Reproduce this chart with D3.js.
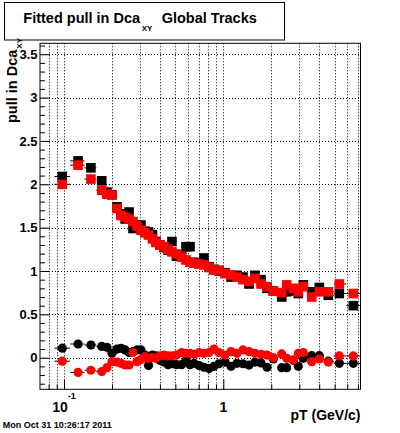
<!DOCTYPE html>
<html><head><meta charset="utf-8">
<script src="https://cdn.jsdelivr.net/npm/d3@7/dist/d3.min.js"></script>
<style>
body{margin:0;background:#fff}
text{font-family:"Liberation Sans",Arial,Helvetica,sans-serif;font-weight:bold;fill:#000}
</style>
</head><body>
<svg id="c" width="400" height="433"></svg>
<script>
// ---- data ----
const pt = [0.0975,0.1225,0.1475,0.1725,0.186,0.20,0.215,0.228,0.242,0.256,0.271,0.287,0.304,0.322,0.339,0.359,0.378,0.40,0.424,0.45,0.476,0.508,0.547,0.583,0.618,0.655,0.704,0.756,0.813,0.874,0.94,1.025,1.118,1.219,1.329,1.45,1.581,1.725,1.881,2.06,2.326,2.50,2.75,2.957,3.178,3.589,4.006,4.562,5.348,6.548];
const sigmaBlack = [2.09,2.27,2.19,2.04,1.91,1.88,1.74,1.66,1.60,1.68,1.49,1.53,1.53,1.46,1.45,1.42,1.34,1.30,1.27,1.24,1.34,1.17,1.17,1.28,1.28,1.10,1.09,1.15,1.05,1.02,1.00,0.98,0.93,0.95,0.93,0.85,0.95,0.90,0.80,0.77,0.70,0.76,0.77,0.74,0.84,0.76,0.81,0.72,0.74,0.60];
const sigmaRed = [2.00,2.22,2.06,1.93,1.885,1.877,1.72,1.64,1.62,1.60,1.57,1.52,1.47,1.44,1.415,1.37,1.33,1.30,1.28,1.25,1.22,1.196,1.16,1.127,1.10,1.09,1.08,1.07,1.04,1.01,1.01,0.97,0.955,0.93,0.90,0.88,0.915,0.85,0.82,0.77,0.75,0.84,0.80,0.76,0.82,0.70,0.76,0.76,0.85,0.74];
const meanBlack = [0.11,0.158,0.146,0.13,0.12,0.05,0.10,0.108,0.09,0.06,0.07,0.09,0.09,0.03,-0.09,0.03,0.02,-0.03,-0.05,-0.08,-0.07,-0.08,-0.08,-0.03,-0.08,-0.065,-0.09,-0.11,-0.125,-0.10,-0.07,-0.05,-0.10,-0.065,-0.07,-0.085,-0.05,-0.06,-0.11,-0.015,-0.115,-0.115,-0.03,-0.10,-0.007,0.023,0.023,-0.04,-0.065,-0.065];
const meanRed = [-0.04,-0.17,-0.145,-0.16,-0.115,-0.046,-0.05,-0.065,-0.084,-0.084,0.06,-0.046,-0.02,0.012,-0.007,0.0,-0.007,0.02,0.03,0.02,0.02,0.03,0.06,0.05,0.05,0.04,0.058,0.05,0.06,0.10,0.06,0.03,0.07,0.05,0.09,0.07,0.05,0.04,0.03,0.0,0.043,-0.007,-0.026,0.05,0.06,-0.046,-0.015,-0.05,0.02,0.02];
const yMajor = [0,0.5,1,1.5,2,2.5,3,3.5];
const yMinor = [-0.3,-0.2,-0.1,0.1,0.2,0.3,0.4,0.6,0.7,0.8,0.9,1.1,1.2,1.3,1.4,1.6,1.7,1.8,1.9,2.1,2.2,2.3,2.4,2.6,2.7,2.8,2.9,3.1,3.2,3.3,3.4,3.6];
const xMajor = [0.1,1];
const xMinor = [0.08,0.09,0.2,0.3,0.4,0.5,0.6,0.7,0.8,0.9,2,3,4,5,6,7];
const titleParts = ["Fitted pull in Dca","XY","Global Tracks"];
const yTitle = ["pull in Dca","XY"];
const xTitle = "pT (GeV/c)";
const dateText = "Mon Oct 31 10:26:17 2011";

// ---- layout ----
const L=40,R=360.5,T=43.3,B=389.3;
const svg=d3.select("#c");
const x=d3.scaleLog().domain([0.07066,7.265]).range([L,R]);
const y=d3.scaleLinear().domain([-0.3645,3.626]).range([B,T]);

// grid
const grid=svg.append("g").attr("stroke","#000").attr("stroke-width",1).attr("stroke-dasharray","1,2");
grid.selectAll("line.gx").data(xMajor.concat(xMinor)).join("line")
  .attr("x1",d=>Math.round(x(d))+0.5).attr("x2",d=>Math.round(x(d))+0.5).attr("y1",T).attr("y2",B);
grid.selectAll("line.gy").data(yMajor).join("line")
  .attr("y1",d=>Math.round(y(d))+0.5).attr("y2",d=>Math.round(y(d))+0.5).attr("x1",L).attr("x2",R);

// axes ticks
function styleAxis(g){g.select(".domain").remove();g.selectAll("line").attr("stroke","#000");g.selectAll("text").remove();}
svg.append("g").attr("transform",`translate(0,${B})`).call(d3.axisBottom(x).tickValues(xMajor).tickSizeInner(-10).tickSizeOuter(0)).call(styleAxis);
svg.append("g").attr("transform",`translate(0,${B})`).call(d3.axisBottom(x).tickValues(xMinor).tickSizeInner(-5).tickSizeOuter(0)).call(styleAxis);
svg.append("g").attr("transform",`translate(${L},0)`).call(d3.axisLeft(y).tickValues(yMajor).tickSizeInner(-10).tickSizeOuter(0)).call(styleAxis);
svg.append("g").attr("transform",`translate(${L},0)`).call(d3.axisLeft(y).tickValues(yMinor).tickSizeInner(-5).tickSizeOuter(0)).call(styleAxis);

// frame
svg.append("rect").attr("x",L).attr("y",T).attr("width",R-L).attr("height",B-T).attr("fill","none").attr("stroke","#000").attr("stroke-width",1);

// y labels
svg.selectAll("text.yl").data(yMajor).join("text").attr("class","yl")
  .attr("x",37.5).attr("y",d=>y(d)+4.6).attr("text-anchor","end").attr("font-size",13).text(d=>d3.format("")(d));
// x labels
xMajor.forEach(v=>{
  const t=svg.append("text").attr("x",x(v)).attr("y",411.5).attr("text-anchor","middle").attr("font-size",14);
  if(v===1){t.text("1");}
  else {t.append("tspan").text("10");t.append("tspan").attr("font-size",9).attr("dy",-12.5).text("-1");}
});

// bin edges
const edges=pt.map((p,i)=>{
  const lo=i>0?Math.sqrt(pt[i-1]*p):p*p/Math.sqrt(p*pt[i+1]);
  const hi=i<pt.length-1?Math.sqrt(p*pt[i+1]):p*p/Math.sqrt(pt[i-1]*p);
  return [lo,hi];
});

function drawSeries(vals,color,shape){
  const g=svg.append("g");
  g.selectAll("line").data(vals).join("line")
    .attr("x1",(d,i)=>x(edges[i][0])).attr("x2",(d,i)=>x(edges[i][1]))
    .attr("y1",d=>y(d)).attr("y2",d=>y(d)).attr("stroke","#000").attr("stroke-width",1);
  if(shape==="square"){
    g.selectAll("rect").data(vals).join("rect")
      .attr("x",(d,i)=>x(pt[i])-4.8).attr("y",d=>y(d)-4.8).attr("width",9.6).attr("height",9.6).attr("fill",color);
  } else {
    g.selectAll("circle").data(vals).join("circle")
      .attr("cx",(d,i)=>x(pt[i])).attr("cy",d=>y(d)).attr("r",4.6).attr("fill",color);
  }
}
drawSeries(sigmaBlack,"#000","square");
drawSeries(sigmaRed,"#ff0000","square");
drawSeries(meanBlack,"#000","circle");
drawSeries(meanRed,"#ff0000","circle");

// title box
svg.append("rect").attr("x",4.5).attr("y",2.5).attr("width",280).attr("height",37.5).attr("fill","#fff").attr("stroke","#000").attr("stroke-width",1);
svg.append("text").attr("x",23.3).attr("y",22.7).attr("font-size",14.5).text(titleParts[0]);
svg.append("text").attr("x",141.7).attr("y",31).attr("font-size",8).text(titleParts[1]);
svg.append("text").attr("x",161.7).attr("y",22.7).attr("font-size",14.5).text(titleParts[2]);

// y title
const yt=svg.append("text").attr("transform","translate(17,123) rotate(-90)").attr("font-size",14.5);
yt.append("tspan").text(yTitle[0]);
yt.append("tspan").attr("font-size",8).attr("dy",4.5).attr("dx",1).text(yTitle[1]);

// x title
svg.append("text").attr("x",360.5).attr("y",419.5).attr("text-anchor","end").attr("font-size",14).text(xTitle);
// date
svg.append("text").attr("x",2.7).attr("y",427.5).attr("font-size",9).text(dateText);
</script>
</body></html>
